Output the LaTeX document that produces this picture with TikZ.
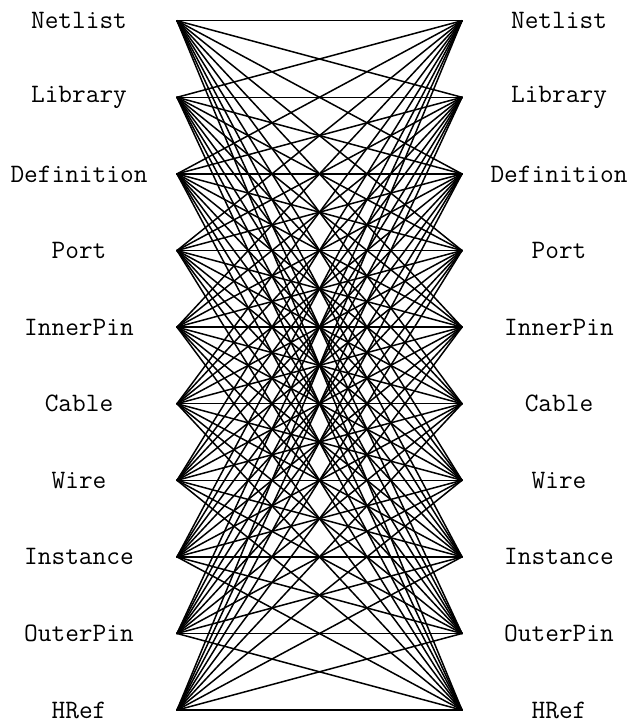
\documentclass[tikz,border=0pt]{standalone}
\begin{document}
\begin{tikzpicture}[x=1pt,y=1pt,
  lab/.style={font=\fontsize{26.6}{31}\selectfont\ttfamily, inner sep=0pt},
  edge/.style={line width=1.5pt, line cap=round, line join=round}]
\useasboundingbox (0,0) rectangle (633,724);
\def\names{Netlist,Library,Definition,Port,InnerPin,Cable,Wire,Instance,OuterPin,HRef}
\foreach \n [count=\i] in \names {
  \pgfmathsetmacro{\yy}{724-20.7-(\i-1)*76.6}
  \coordinate (L\i) at (177,\yy);
  \coordinate (R\i) at (462,\yy);
  \node[lab] (LT\i) at (79,\yy) {\n};
  \node[lab] (RT\i) at (559,\yy) {\n};
}
\foreach \i in {1,...,10} {
  \foreach \j in {1,...,10} {
    \draw[edge] (L\i) -- (R\j);
  }
}
\end{tikzpicture}
\end{document}
